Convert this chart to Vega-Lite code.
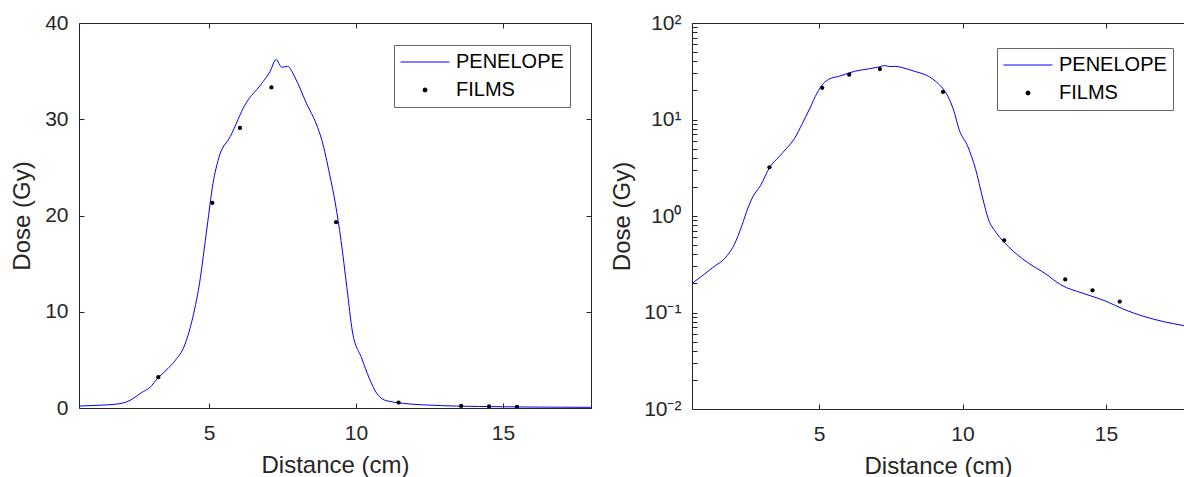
{
  "$schema": "https://vega.github.io/schema/vega-lite/v6.json",
  "padding": {"left": 10, "top": 12, "right": 0, "bottom": 0},
  "background": "white",
  "config": {
    "font": "Liberation Sans",
    "view": {"stroke": null},
    "axis": {
      "grid": false,
      "domainColor": "#262626",
      "tickColor": "#262626",
      "labelColor": "#262626",
      "titleColor": "#262626",
      "labelFont": "Liberation Sans",
      "titleFont": "Liberation Sans",
      "labelFontSize": 21,
      "titleFontSize": 24,
      "titleFontWeight": "normal",
      "domainWidth": 1,
      "tickWidth": 1
    }
  },
  "datasets": {
    "pen": [
      {"d": 0.57, "dose": 0.2, "series": "PENELOPE"},
      {"d": 1.28, "dose": 0.29, "series": "PENELOPE"},
      {"d": 1.8, "dose": 0.39, "series": "PENELOPE"},
      {"d": 2.05, "dose": 0.51, "series": "PENELOPE"},
      {"d": 2.31, "dose": 0.8, "series": "PENELOPE"},
      {"d": 2.51, "dose": 1.19, "series": "PENELOPE"},
      {"d": 2.7, "dose": 1.6, "series": "PENELOPE"},
      {"d": 2.96, "dose": 2.07, "series": "PENELOPE"},
      {"d": 3.28, "dose": 3.2, "series": "PENELOPE"},
      {"d": 3.6, "dose": 4.1, "series": "PENELOPE"},
      {"d": 3.86, "dose": 5.0, "series": "PENELOPE"},
      {"d": 4.15, "dose": 6.4, "series": "PENELOPE"},
      {"d": 4.41, "dose": 9.0, "series": "PENELOPE"},
      {"d": 4.67, "dose": 12.9, "series": "PENELOPE"},
      {"d": 4.93, "dose": 18.8, "series": "PENELOPE"},
      {"d": 5.13, "dose": 23.3, "series": "PENELOPE"},
      {"d": 5.33, "dose": 26.0, "series": "PENELOPE"},
      {"d": 5.72, "dose": 28.2, "series": "PENELOPE"},
      {"d": 6.24, "dose": 31.6, "series": "PENELOPE"},
      {"d": 6.76, "dose": 33.6, "series": "PENELOPE"},
      {"d": 7.08, "dose": 35.0, "series": "PENELOPE"},
      {"d": 7.28, "dose": 36.2, "series": "PENELOPE"},
      {"d": 7.47, "dose": 35.4, "series": "PENELOPE"},
      {"d": 7.67, "dose": 35.5, "series": "PENELOPE"},
      {"d": 7.93, "dose": 34.3, "series": "PENELOPE"},
      {"d": 8.32, "dose": 31.6, "series": "PENELOPE"},
      {"d": 8.65, "dose": 29.5, "series": "PENELOPE"},
      {"d": 8.84, "dose": 27.8, "series": "PENELOPE"},
      {"d": 9.1, "dose": 24.3, "series": "PENELOPE"},
      {"d": 9.3, "dose": 21.2, "series": "PENELOPE"},
      {"d": 9.49, "dose": 17.4, "series": "PENELOPE"},
      {"d": 9.69, "dose": 12.5, "series": "PENELOPE"},
      {"d": 9.88, "dose": 7.9, "series": "PENELOPE"},
      {"d": 10.19, "dose": 5.2, "series": "PENELOPE"},
      {"d": 10.45, "dose": 3.1, "series": "PENELOPE"},
      {"d": 10.71, "dose": 1.5, "series": "PENELOPE"},
      {"d": 10.9, "dose": 0.93, "series": "PENELOPE"},
      {"d": 11.16, "dose": 0.68, "series": "PENELOPE"},
      {"d": 11.45, "dose": 0.535, "series": "PENELOPE"},
      {"d": 11.62, "dose": 0.474, "series": "PENELOPE"},
      {"d": 12.26, "dose": 0.331, "series": "PENELOPE"},
      {"d": 12.91, "dose": 0.25, "series": "PENELOPE"},
      {"d": 13.42, "dose": 0.194, "series": "PENELOPE"},
      {"d": 14.2, "dose": 0.158, "series": "PENELOPE"},
      {"d": 14.97, "dose": 0.132, "series": "PENELOPE"},
      {"d": 15.62, "dose": 0.108, "series": "PENELOPE"},
      {"d": 16.27, "dose": 0.092, "series": "PENELOPE"},
      {"d": 17.04, "dose": 0.08, "series": "PENELOPE"},
      {"d": 17.66, "dose": 0.0736, "series": "PENELOPE"},
      {"d": 18.0, "dose": 0.07, "series": "PENELOPE"}
    ],
    "films": [
      {"d": 3.27, "dose": 3.2, "series": "FILMS"},
      {"d": 5.11, "dose": 21.3, "series": "FILMS"},
      {"d": 6.05, "dose": 29.1, "series": "FILMS"},
      {"d": 7.12, "dose": 33.3, "series": "FILMS"},
      {"d": 9.32, "dose": 19.3, "series": "FILMS"},
      {"d": 11.45, "dose": 0.56, "series": "FILMS"},
      {"d": 13.58, "dose": 0.22, "series": "FILMS"},
      {"d": 14.53, "dose": 0.17, "series": "FILMS"},
      {"d": 15.48, "dose": 0.13, "series": "FILMS"}
    ]
  },
  "bounds": "flush",
  "spacing": 101,
  "resolve": {"scale": {"color": "independent"}, "legend": {"color": "independent"}},
  "hconcat": [
    {
      "width": 512,
      "height": 385,
      "resolve": {"axis": {"x": "independent", "y": "independent"}},
      "layer": [
        {
          "data": {"name": "pen"},
          "mark": {"type": "line", "strokeWidth": 1, "clip": true, "interpolate": "monotone"},
          "encoding": {
            "x": {"field": "d", "type": "quantitative", "scale": {"domain": [0.57, 18], "nice": false, "zero": false},
              "axis": {"orient": "bottom", "values": [5, 10, 15], "title": "Distance (cm)", "tickSize": -5, "labelPadding": 30, "titleY": 57, "titleBaseline": "middle", "labelBaseline": "middle"}},
            "y": {"field": "dose", "type": "quantitative", "scale": {"domain": [0, 40], "nice": false, "zero": false},
              "axis": {"orient": "left", "values": [0, 10, 20, 30, 40], "title": "Dose (Gy)", "tickSize": -5, "labelPadding": 16, "titleX": -57, "titleBaseline": "middle"}},
            "color": {"field": "series", "type": "nominal",
              "scale": {"domain": ["PENELOPE", "FILMS"], "range": ["#0000ff", "#000000"]},
              "legend": {"orient": "none", "legendX": 315, "legendY": 22, "title": null, "strokeColor": "#666666", "fillColor": "white",
                "padding": 6, "clipHeight": 22, "rowPadding": 6, "labelFontSize": 20, "labelFont": "Liberation Sans", "labelColor": "#000000",
                "symbolSize": 2401, "symbolType": "stroke", "symbolStrokeWidth": 1, "labelOffset": 6, "cornerRadius": 0,
                "encode": {"symbols": {"update": {
                  "shape": {"signal": "datum.value === 'FILMS' ? 'circle' : 'stroke'"},
                  "size": {"signal": "datum.value === 'FILMS' ? 16 : 2401"},
                  "fill": {"signal": "datum.value === 'FILMS' ? '#000000' : 'transparent'"},
                  "stroke": {"signal": "datum.value === 'FILMS' ? '#000000' : '#0000ff'"},
                  "strokeWidth": {"value": 1},
                  "opacity": {"value": 1}
                }}}}
            }
          }
        },
        {
          "data": {"name": "films"},
          "mark": {"type": "point", "filled": true, "size": 18, "opacity": 1, "clip": true},
          "encoding": {
            "x": {"field": "d", "type": "quantitative", "axis": {"orient": "top", "values": [5, 10, 15], "labels": false, "title": null, "tickSize": -5}},
            "y": {"field": "dose", "type": "quantitative", "axis": {"orient": "right", "values": [0, 10, 20, 30, 40], "labels": false, "title": null, "tickSize": -5}},
            "color": {"field": "series", "type": "nominal", "legend": null}
          }
        }
      ]
    },
    {
      "width": 492,
      "height": 386,
      "resolve": {"axis": {"x": "independent", "y": "independent"}},
      "layer": [
        {
          "data": {"name": "pen"},
          "mark": {"type": "line", "strokeWidth": 1, "clip": true, "interpolate": "monotone"},
          "encoding": {
            "x": {"field": "d", "type": "quantitative", "scale": {"domain": [0.57, 17.72], "nice": false, "zero": false},
              "axis": {"orient": "bottom", "values": [5, 10, 15], "title": "Distance (cm)", "tickSize": -5, "labelPadding": 30, "titleY": 57, "titleBaseline": "middle", "labelBaseline": "middle"}},
            "y": {"field": "dose", "type": "quantitative", "scale": {"type": "log", "domain": [0.01, 100], "nice": false},
              "axis": {"orient": "left",
                "values": [0.01, 0.02, 0.03, 0.04, 0.05, 0.06, 0.07, 0.08, 0.09, 0.1, 0.2, 0.3, 0.4, 0.5, 0.6, 0.7, 0.8, 0.9, 1, 2, 3, 4, 5, 6, 7, 8, 9, 10, 20, 30, 40, 50, 60, 70, 80, 90, 100],
                "labelExpr": "abs(log(datum.value)/LN10 - round(log(datum.value)/LN10)) > 0.001 ? '' : datum.value >= 99 ? '10²' : datum.value >= 9.9 ? '10¹' : datum.value >= 0.99 ? '10⁰' : datum.value >= 0.099 ? '10⁻¹' : '10⁻²'",
                "title": "Dose (Gy)", "tickSize": -5, "labelPadding": 16, "titleX": -70, "titleBaseline": "middle", "labelOverlap": false,
                "encode": {"ticks": {"update": {"x2": {"signal": "abs(log(datum.value)/LN10 - round(log(datum.value)/LN10)) > 0.001 ? 3 : 5"}}}}}},
            "color": {"field": "series", "type": "nominal",
              "scale": {"domain": ["PENELOPE", "FILMS"], "range": ["#0000ff", "#000000"]},
              "legend": {"orient": "none", "legendX": 305, "legendY": 25, "title": null, "strokeColor": "#666666", "fillColor": "white",
                "padding": 6, "clipHeight": 22, "rowPadding": 6, "labelFontSize": 20, "labelFont": "Liberation Sans", "labelColor": "#000000",
                "symbolSize": 2401, "symbolType": "stroke", "symbolStrokeWidth": 1, "labelOffset": 6, "cornerRadius": 0,
                "encode": {"symbols": {"update": {
                  "shape": {"signal": "datum.value === 'FILMS' ? 'circle' : 'stroke'"},
                  "size": {"signal": "datum.value === 'FILMS' ? 16 : 2401"},
                  "fill": {"signal": "datum.value === 'FILMS' ? '#000000' : 'transparent'"},
                  "stroke": {"signal": "datum.value === 'FILMS' ? '#000000' : '#0000ff'"},
                  "strokeWidth": {"value": 1},
                  "opacity": {"value": 1}
                }}}}
            }
          }
        },
        {
          "data": {"name": "films"},
          "mark": {"type": "point", "filled": true, "size": 18, "opacity": 1, "clip": true},
          "encoding": {
            "x": {"field": "d", "type": "quantitative", "axis": {"orient": "top", "values": [5, 10, 15], "labels": false, "title": null, "tickSize": -5}},
            "y": {"field": "dose", "type": "quantitative", "axis": null},
            "color": {"field": "series", "type": "nominal", "legend": null}
          }
        }
      ]
    }
  ]
}
